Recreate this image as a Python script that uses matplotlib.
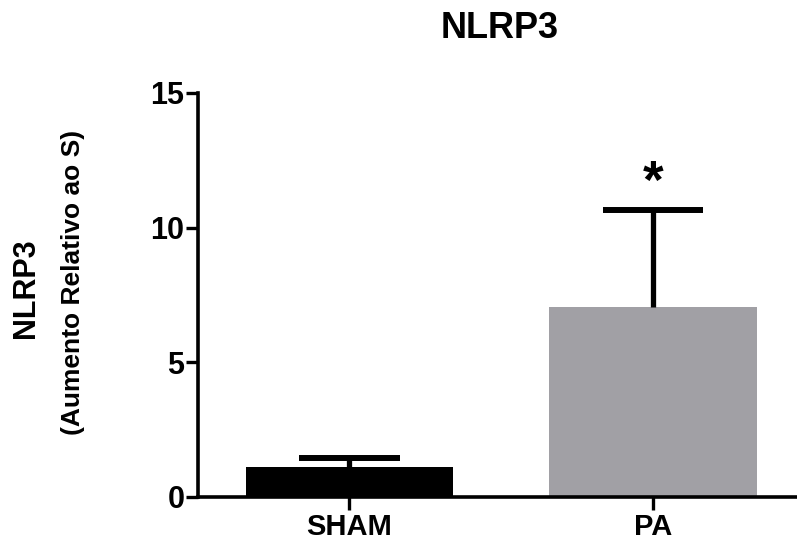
import numpy as np
import matplotlib.pyplot as plt

plt.rcParams['font.family'] = ['Liberation Sans', 'DejaVu Sans']
plt.rcParams['font.weight'] = 'bold'

groups = ['SHAM', 'PA']
means = [1.13, 7.05]
errs = [0.32, 3.6]
colors = ['#000000', '#a1a0a5']

fig = plt.figure(figsize=(7.97, 5.44), dpi=100)
ax = fig.add_axes([0.248, 0.0864, 0.752, 0.743])

x = np.arange(len(groups))
m = np.array(means)
e = np.array(errs)
ax.bar(x, m, width=0.684, color=colors, zorder=2)
# only the upper half of the error bar, like Prism does
ax.vlines(x, m, m + e, color='black', linewidth=3.8, zorder=3)
ax.hlines(m + e, x - 0.165, x + 0.165, color='black', linewidth=4.3, zorder=3)

# significance mark
ax.text(1, m[1] + e[1] + 0.05, '*', ha='center', va='bottom', fontsize=38, fontweight='bold')

ax.set_xlim(-0.5, 1.474)
ax.set_ylim(0, 15)
ax.set_yticks([0, 5, 10, 15])
ax.set_xticks(x)
ax.set_xticklabels(groups)

for s in ['top', 'right']:
    ax.spines[s].set_visible(False)
for s in ['left', 'bottom']:
    ax.spines[s].set_linewidth(2.6)
ax.spines['bottom'].set_zorder(4)

ax.tick_params(axis='y', length=8.5, width=2.4, labelsize=22, pad=1)
ax.tick_params(axis='x', length=9.5, width=2.4, labelsize=21, pad=2)
for lab in ax.get_xticklabels() + ax.get_yticklabels():
    lab.set_fontweight('bold')

fig.text(0.627, 0.948, 'NLRP3', ha='center', va='center', fontsize=26, fontweight='bold')
fig.text(0.032, 0.47, 'NLRP3', rotation=90, ha='center', va='center', fontsize=22, fontweight='bold')
fig.text(0.092, 0.48, '(Aumento Relativo ao S)', rotation=90, ha='center', va='center', fontsize=19, fontweight='bold')

fig.savefig('out.png', dpi=100)
